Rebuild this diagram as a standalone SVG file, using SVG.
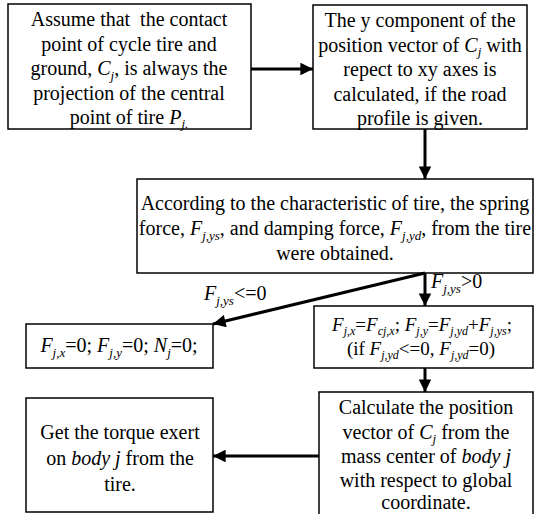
<svg xmlns="http://www.w3.org/2000/svg" width="534" height="514" viewBox="0 0 534 514">
<style>
  .box { fill: #ffffff; stroke: #000000; stroke-width: 1.5; }
  text { font-family: "Liberation Serif", "Times New Roman", serif; font-size: 20px; fill: #000000; }
  .c { text-anchor: middle; }
  .i { font-style: italic; }
  .s { font-style: italic; font-size: 13px; }
  .f { font-size: 19px; }
  .f .s { font-size: 12px; }
  .conn { stroke: #000000; stroke-width: 3; fill: none; }
</style>
<defs>
  <marker id="ah" viewBox="0 0 10 10" refX="10" refY="5" markerWidth="4.6" markerHeight="4.2" orient="auto" markerUnits="strokeWidth">
    <path d="M0,0 L10,5 L0,10 Z" fill="#000000"/>
  </marker>
</defs>
<rect width="534" height="514" fill="#ffffff"/>

<g id="n1">
  <rect class="box" x="8" y="4" width="243" height="125"/>
  <text class="c" x="129" y="26">Assume that&#160; the contact</text>
  <text class="c" x="129" y="50.5">point of cycle tire and</text>
  <text class="c" x="129" y="75">ground, <tspan class="i">C</tspan><tspan class="s" dy="4.5">j</tspan><tspan dy="-4.5">, is always the</tspan></text>
  <text class="c" x="129" y="99.5">projection of the central</text>
  <text class="c" x="129" y="123.5">point of tire <tspan class="i">P</tspan><tspan class="s" dy="4.5">j.</tspan></text>
</g>

<g id="n2">
  <rect class="box" x="313" y="5" width="214" height="124"/>
  <text class="c" x="420" y="27">The y component of the</text>
  <text class="c" x="420" y="51.5">position vector of <tspan class="i">C</tspan><tspan class="s" dy="4.5">j</tspan><tspan dy="-4.5"> with</tspan></text>
  <text class="c" x="420" y="76">repect to xy axes is</text>
  <text class="c" x="420" y="100.5">calculated, if the road</text>
  <text class="c" x="420" y="124.5">profile is given.</text>
</g>

<g id="n3">
  <rect class="box" x="137" y="179" width="396" height="94"/>
  <text class="c" x="335" y="210">According to the characteristic of tire, the spring</text>
  <text class="c" x="335" y="235">force, <tspan class="i">F</tspan><tspan class="s" dy="4.5">j,ys</tspan><tspan dy="-4.5">, and damping force, </tspan><tspan class="i">F</tspan><tspan class="s" dy="4.5">j,yd</tspan><tspan dy="-4.5">, from the tire</tspan></text>
  <text class="c" x="335" y="260">were obtained.</text>
</g>

<g id="n4">
  <rect class="box" x="26" y="324" width="187" height="44"/>
  <text class="c" x="119" y="352"><tspan class="i">F</tspan><tspan class="s" dy="4.5">j,x</tspan><tspan dy="-4.5">=0; </tspan><tspan class="i">F</tspan><tspan class="s" dy="4.5">j,y</tspan><tspan dy="-4.5">=0; </tspan><tspan class="i">N</tspan><tspan class="s" dy="4.5">j</tspan><tspan dy="-4.5">=0;</tspan></text>
</g>

<g id="n5">
  <rect class="box" x="314" y="306" width="219" height="62"/>
  <text class="c f" x="422" y="331"><tspan class="i">F</tspan><tspan class="s" dy="3.5">j,x</tspan><tspan dy="-3.5">=</tspan><tspan class="i">F</tspan><tspan class="s" dy="3.5">cj,x</tspan><tspan dy="-3.5">; </tspan><tspan class="i">F</tspan><tspan class="s" dy="3.5">j,y</tspan><tspan dy="-3.5">=</tspan><tspan class="i">F</tspan><tspan class="s" dy="3.5">j,yd</tspan><tspan dy="-3.5">+</tspan><tspan class="i">F</tspan><tspan class="s" dy="3.5">j,ys</tspan><tspan dy="-3.5">;</tspan></text>
  <text class="c f" x="421" y="355">(if <tspan class="i">F</tspan><tspan class="s" dy="3.5">j,yd</tspan><tspan dy="-3.5">&lt;=0, </tspan><tspan class="i">F</tspan><tspan class="s" dy="3.5">j,yd</tspan><tspan dy="-3.5">=0)</tspan></text>
</g>

<g id="n6">
  <rect class="box" x="26" y="398" width="187" height="114"/>
  <text class="c" x="120" y="439">Get the torque exert</text>
  <text class="c" x="120" y="465">on <tspan class="i">body j</tspan> from the</text>
  <text class="c" x="120" y="491">tire.</text>
</g>

<g id="n7">
  <rect class="box" x="319" y="392" width="214" height="130"/>
  <text class="c" x="426" y="414">Calculate the position</text>
  <text class="c" x="426" y="438.5">vector of <tspan class="i">C</tspan><tspan class="s" dy="4.5">j</tspan><tspan dy="-4.5"> from the</tspan></text>
  <text class="c" x="426" y="463">mass center of <tspan class="i">body j</tspan></text>
  <text class="c" x="426" y="487">with respect to global</text>
  <text class="c" x="426" y="509">coordinate.</text>
</g>

<g id="connectors">
  <line class="conn" x1="251" y1="69" x2="313" y2="69" marker-end="url(#ah)"/>
  <line class="conn" x1="425" y1="129" x2="425" y2="179" marker-end="url(#ah)"/>
  <line class="conn" x1="425" y1="273" x2="213" y2="324" marker-end="url(#ah)"/>
  <line class="conn" x1="425" y1="273" x2="425" y2="306" marker-end="url(#ah)"/>
  <line class="conn" x1="425" y1="368" x2="425" y2="392" marker-end="url(#ah)"/>
  <line class="conn" x1="319" y1="456" x2="213" y2="456" marker-end="url(#ah)"/>
  <text x="204" y="300"><tspan class="i">F</tspan><tspan class="s" dy="4.5">j,ys</tspan><tspan dy="-4.5">&lt;=0</tspan></text>
  <text x="431" y="288"><tspan class="i">F</tspan><tspan class="s" dy="4.5">j,ys</tspan><tspan dy="-4.5">&gt;0</tspan></text>
</g>
</svg>
